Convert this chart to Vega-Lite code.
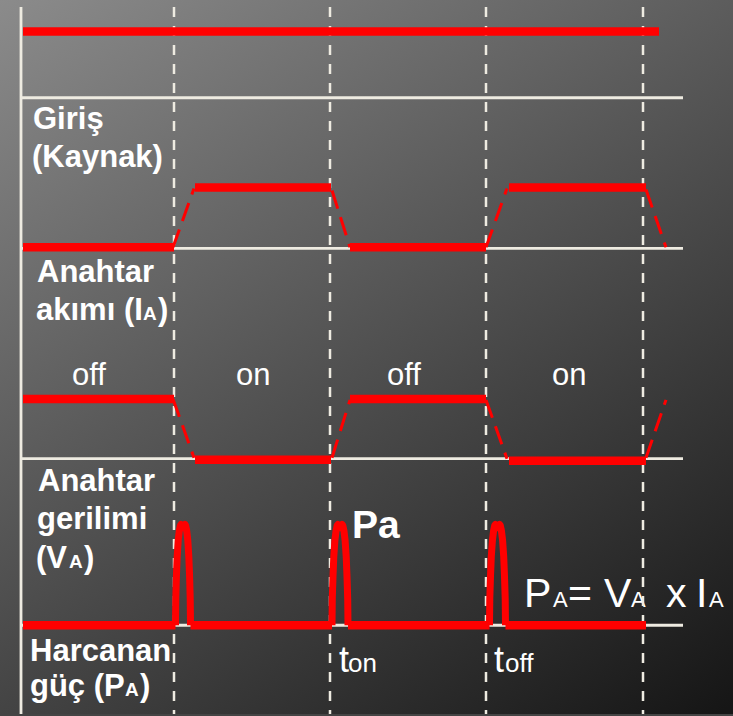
{
  "$schema": "https://vega.github.io/schema/vega-lite/v6.json",
  "width": 733,
  "height": 716,
  "padding": 0,
  "autosize": {"type": "fit", "contains": "padding"},
  "background": "#444444",
  "config": {"view": {"stroke": null}},
  "datasets": {
    "bg": [{"x": 0, "y": 0, "x2": 733, "y2": 716}],
    "grid": [
      {"x": 21, "y": 7, "x2": 21, "y2": 716},
      {"x": 21, "y": 98, "x2": 683, "y2": 98},
      {"x": 21, "y": 249, "x2": 683, "y2": 249},
      {"x": 21, "y": 460, "x2": 683, "y2": 460},
      {"x": 21, "y": 627, "x2": 683, "y2": 627}
    ],
    "dash": [
      {"x": 174, "y": 7, "x2": 174, "y2": 716},
      {"x": 330, "y": 7, "x2": 330, "y2": 716},
      {"x": 486, "y": 7, "x2": 486, "y2": 716},
      {"x": 643, "y": 7, "x2": 643, "y2": 716}
    ],
    "red": [
      {"x": 23, "y": 31.5, "x2": 659, "y2": 31.5},
      {"x": 23, "y": 248, "x2": 174, "y2": 248},
      {"x": 195, "y": 188, "x2": 331, "y2": 188},
      {"x": 350, "y": 248, "x2": 486, "y2": 248},
      {"x": 509, "y": 188, "x2": 646, "y2": 188},
      {"x": 23, "y": 400, "x2": 174, "y2": 400},
      {"x": 195, "y": 461, "x2": 331, "y2": 461},
      {"x": 350, "y": 400, "x2": 486, "y2": 400},
      {"x": 509, "y": 462, "x2": 646, "y2": 462},
      {"x": 23, "y": 627, "x2": 175.5, "y2": 627},
      {"x": 190.5, "y": 627, "x2": 332, "y2": 627},
      {"x": 348, "y": 627, "x2": 489.5, "y2": 627},
      {"x": 505.5, "y": 627, "x2": 646, "y2": 627}
    ],
    "trans": [
      {"x": 173, "y": 248, "x2": 194, "y2": 189},
      {"x": 332, "y": 191, "x2": 350, "y2": 248},
      {"x": 486, "y": 248, "x2": 507, "y2": 189},
      {"x": 646, "y": 190, "x2": 666, "y2": 248},
      {"x": 173, "y": 400, "x2": 194, "y2": 459},
      {"x": 332, "y": 459, "x2": 350, "y2": 401},
      {"x": 486, "y": 401, "x2": 507, "y2": 460},
      {"x": 646, "y": 459, "x2": 666, "y2": 401}
    ],
    "spikes": [
      {"s": 1, "x": 175.5, "y": 627}, {"s": 1, "x": 175.8, "y": 600}, {"s": 1, "x": 176.4, "y": 578}, {"s": 1, "x": 177.2, "y": 558},
      {"s": 1, "x": 178.2, "y": 542}, {"s": 1, "x": 179.3, "y": 532}, {"s": 1, "x": 180.4, "y": 527}, {"s": 1, "x": 181, "y": 526},
      {"s": 1, "x": 182, "y": 527.5}, {"s": 1, "x": 183, "y": 529}, {"s": 1, "x": 184, "y": 527.5}, {"s": 1, "x": 185, "y": 526},
      {"s": 1, "x": 185.6, "y": 527}, {"s": 1, "x": 186.7, "y": 532}, {"s": 1, "x": 187.8, "y": 542}, {"s": 1, "x": 188.8, "y": 558},
      {"s": 1, "x": 189.6, "y": 578}, {"s": 1, "x": 190.2, "y": 600}, {"s": 1, "x": 190.5, "y": 627},
      {"s": 2, "x": 332, "y": 627}, {"s": 2, "x": 332.3, "y": 600}, {"s": 2, "x": 333, "y": 578}, {"s": 2, "x": 333.8, "y": 558},
      {"s": 2, "x": 334.9, "y": 542}, {"s": 2, "x": 336.1, "y": 532}, {"s": 2, "x": 337.2, "y": 527}, {"s": 2, "x": 337.9, "y": 526},
      {"s": 2, "x": 338.9, "y": 527.5}, {"s": 2, "x": 340, "y": 529}, {"s": 2, "x": 341.1, "y": 527.5}, {"s": 2, "x": 342.1, "y": 526},
      {"s": 2, "x": 342.8, "y": 527}, {"s": 2, "x": 343.9, "y": 532}, {"s": 2, "x": 345.1, "y": 542}, {"s": 2, "x": 346.2, "y": 558},
      {"s": 2, "x": 347, "y": 578}, {"s": 2, "x": 347.7, "y": 600}, {"s": 2, "x": 348, "y": 627},
      {"s": 3, "x": 489.5, "y": 627}, {"s": 3, "x": 489.8, "y": 600}, {"s": 3, "x": 490.5, "y": 578}, {"s": 3, "x": 491.3, "y": 558},
      {"s": 3, "x": 492.4, "y": 542}, {"s": 3, "x": 493.6, "y": 532}, {"s": 3, "x": 494.7, "y": 527}, {"s": 3, "x": 495.4, "y": 526},
      {"s": 3, "x": 496.4, "y": 527.5}, {"s": 3, "x": 497.5, "y": 529}, {"s": 3, "x": 498.6, "y": 527.5}, {"s": 3, "x": 499.6, "y": 526},
      {"s": 3, "x": 500.3, "y": 527}, {"s": 3, "x": 501.4, "y": 532}, {"s": 3, "x": 502.6, "y": 542}, {"s": 3, "x": 503.7, "y": 558},
      {"s": 3, "x": 504.5, "y": 578}, {"s": 3, "x": 505.2, "y": 600}, {"s": 3, "x": 505.5, "y": 627}
    ],
    "labels": [
      {"t": "Giriş", "x": 33, "y": 129, "r": "lb"},
      {"t": "(Kaynak)", "x": 32, "y": 167, "r": "lb"},
      {"t": "Anahtar", "x": 37, "y": 283, "r": "lb"},
      {"t": "akımı (I", "x": 36, "y": 321, "r": "lb"},
      {"t": ")", "x": 158, "y": 321, "r": "lb"},
      {"t": "Anahtar", "x": 38, "y": 492, "r": "lb"},
      {"t": "gerilimi", "x": 37, "y": 530, "r": "lb"},
      {"t": "(V", "x": 36, "y": 570, "r": "lb"},
      {"t": ")", "x": 84, "y": 570, "r": "lb"},
      {"t": "Harcanan", "x": 30, "y": 663, "r": "lb"},
      {"t": "güç (P", "x": 30, "y": 698, "r": "lb"},
      {"t": ")", "x": 140, "y": 698, "r": "lb"},
      {"t": "A", "x": 143, "y": 321, "r": "lbs"},
      {"t": "A", "x": 69, "y": 570, "r": "lbs"},
      {"t": "A", "x": 125, "y": 698, "r": "lbs"},
      {"t": "off", "x": 72, "y": 386, "r": "st"},
      {"t": "on", "x": 236, "y": 386, "r": "st"},
      {"t": "off", "x": 387, "y": 386, "r": "st"},
      {"t": "on", "x": 552, "y": 386, "r": "st"},
      {"t": "Pa", "x": 352, "y": 540, "r": "pa"},
      {"t": "P", "x": 524, "y": 609, "r": "fm"},
      {"t": "=", "x": 568, "y": 609, "r": "fm"},
      {"t": "V", "x": 604, "y": 609, "r": "fm"},
      {"t": "x", "x": 666, "y": 609, "r": "fm"},
      {"t": "I", "x": 696, "y": 609, "r": "fm"},
      {"t": "A", "x": 553, "y": 609, "r": "fs"},
      {"t": "A", "x": 631, "y": 609, "r": "fs"},
      {"t": "A", "x": 709, "y": 609, "r": "fs"},
      {"t": "t", "x": 339, "y": 674, "r": "tt"},
      {"t": "t", "x": 494, "y": 674, "r": "tt"},
      {"t": "on", "x": 348, "y": 674, "r": "ts"},
      {"t": "off", "x": 505, "y": 674, "r": "ts"}
    ]
  },
  "encoding": {
    "x": {"field": "x", "type": "quantitative", "scale": {"domain": [0, 733], "nice": false, "zero": false}, "axis": null},
    "y": {"field": "y", "type": "quantitative", "scale": {"domain": [0, 716], "nice": false, "zero": false, "reverse": true}, "axis": null}
  },
  "layer": [
    {
      "data": {"name": "bg"},
      "mark": {"type": "rect", "fill": {"gradient": "linear", "x1": 0, "y1": 0, "x2": 0.75, "y2": 1.15, "stops": [{"offset": 0, "color": "#8b8b8b"}, {"offset": 1, "color": "#161616"}]}},
      "encoding": {"x2": {"field": "x2"}, "y2": {"field": "y2"}}
    },
    {
      "data": {"name": "grid"},
      "mark": {"type": "rule", "color": "#eeebe1", "strokeWidth": 2.8, "strokeCap": "butt"},
      "encoding": {"x2": {"field": "x2"}, "y2": {"field": "y2"}}
    },
    {
      "data": {"name": "labels"},
      "transform": [{"filter": "datum.r === 'lb'"}],
      "mark": {"type": "text", "align": "left", "baseline": "alphabetic", "font": "Liberation Sans", "fontWeight": "bold", "fontSize": 31, "color": "#ffffff"},
      "encoding": {"text": {"field": "t"}}
    },
    {
      "data": {"name": "labels"},
      "transform": [{"filter": "datum.r === 'lbs'"}],
      "mark": {"type": "text", "align": "left", "baseline": "alphabetic", "font": "Liberation Sans", "fontWeight": "bold", "fontSize": 19, "color": "#ffffff"},
      "encoding": {"text": {"field": "t"}}
    },
    {
      "data": {"name": "labels"},
      "transform": [{"filter": "datum.r === 'st'"}],
      "mark": {"type": "text", "align": "left", "baseline": "alphabetic", "font": "Liberation Sans", "fontSize": 31, "color": "#ffffff"},
      "encoding": {"text": {"field": "t"}}
    },
    {
      "data": {"name": "labels"},
      "transform": [{"filter": "datum.r === 'pa'"}],
      "mark": {"type": "text", "align": "left", "baseline": "alphabetic", "font": "Liberation Sans", "fontWeight": "bold", "fontSize": 39, "color": "#ffffff"},
      "encoding": {"text": {"field": "t"}}
    },
    {
      "data": {"name": "labels"},
      "transform": [{"filter": "datum.r === 'fm'"}],
      "mark": {"type": "text", "align": "left", "baseline": "alphabetic", "font": "Liberation Sans", "fontSize": 41, "color": "#ffffff"},
      "encoding": {"text": {"field": "t"}}
    },
    {
      "data": {"name": "labels"},
      "transform": [{"filter": "datum.r === 'fs'"}],
      "mark": {"type": "text", "align": "left", "baseline": "alphabetic", "font": "Liberation Sans", "fontSize": 22, "color": "#ffffff"},
      "encoding": {"text": {"field": "t"}}
    },
    {
      "data": {"name": "labels"},
      "transform": [{"filter": "datum.r === 'tt'"}],
      "mark": {"type": "text", "align": "left", "baseline": "alphabetic", "font": "Liberation Sans", "fontSize": 36, "color": "#ffffff"},
      "encoding": {"text": {"field": "t"}}
    },
    {
      "data": {"name": "labels"},
      "transform": [{"filter": "datum.r === 'ts'"}],
      "mark": {"type": "text", "align": "left", "baseline": "alphabetic", "font": "Liberation Sans", "fontSize": 26, "color": "#ffffff"},
      "encoding": {"text": {"field": "t"}}
    },
    {
      "data": {"name": "dash"},
      "mark": {"type": "rule", "color": "#eeebe1", "strokeWidth": 2.5, "strokeDash": [10, 9], "strokeCap": "butt"},
      "encoding": {"x2": {"field": "x2"}, "y2": {"field": "y2"}}
    },
    {
      "data": {"name": "red"},
      "mark": {"type": "rule", "color": "#ff0000", "strokeWidth": 8.5, "strokeCap": "butt"},
      "encoding": {"x2": {"field": "x2"}, "y2": {"field": "y2"}}
    },
    {
      "data": {"name": "trans"},
      "mark": {"type": "rule", "color": "#ff0000", "strokeWidth": 3, "strokeDash": [19, 9], "strokeCap": "butt"},
      "encoding": {"x2": {"field": "x2"}, "y2": {"field": "y2"}}
    },
    {
      "data": {"name": "spikes"},
      "mark": {"type": "line", "color": "#ff0000", "strokeWidth": 7, "strokeJoin": "round", "strokeCap": "butt"},
      "encoding": {"detail": {"field": "s", "type": "nominal"}}
    }
  ]
}
